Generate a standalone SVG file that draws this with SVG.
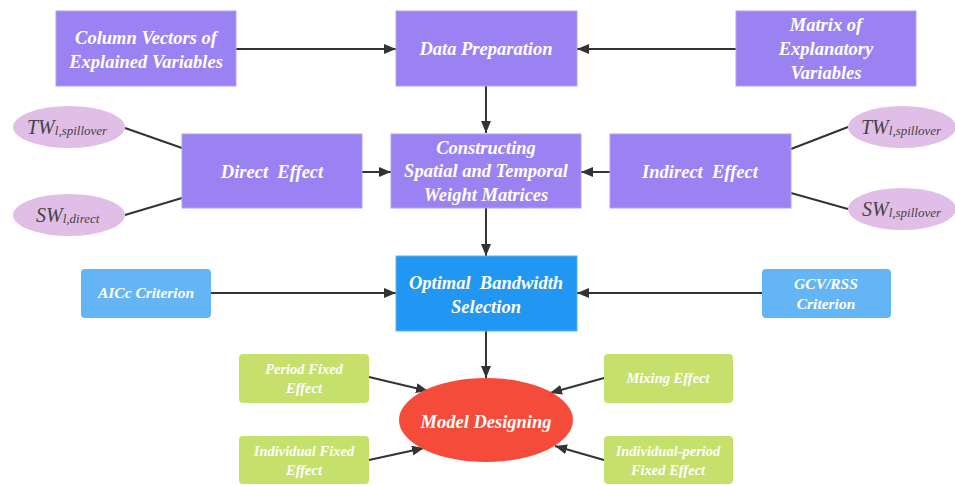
<svg xmlns="http://www.w3.org/2000/svg" width="955" height="485" viewBox="0 0 955 485">
<defs>
<style>
.box{fill:#9b82f3;stroke:#b3a1f5;stroke-width:1}
.pink{fill:#e1bee7}
.blue{fill:#2196f3;stroke:#5fb0f5;stroke-width:1}
.lblue{fill:#64b5f6}
.green{fill:#c6e06c}
.red{fill:#f44b3b}
.t{font-family:"Liberation Serif","Times New Roman",serif;font-weight:bold;font-style:italic;fill:#ffffff;text-anchor:middle;white-space:pre}
.m{font-size:18.5px}
.s{font-size:15.5px}
.g{font-size:14.5px}
.big{font-size:18.5px}
.math{font-family:"Liberation Serif","Times New Roman",serif;font-style:italic;fill:#444;font-size:20px}
.sub{font-size:13px}
.c{stroke:#333;stroke-width:2;fill:none}
</style>
<marker id="ah" viewBox="0 0 12 10" refX="12" refY="5" markerWidth="12" markerHeight="10" markerUnits="userSpaceOnUse" orient="auto">
<path d="M0,0 L12,5 L0,10 Z" fill="#333"/>
</marker>
</defs>
<rect width="955" height="485" fill="#ffffff"/>

<g id="connectors">
<line class="c" x1="236" y1="49" x2="396" y2="49" marker-end="url(#ah)"/>
<line class="c" x1="736" y1="49" x2="577" y2="49" marker-end="url(#ah)"/>
<line class="c" x1="486" y1="86" x2="486" y2="133" marker-end="url(#ah)"/>
<line class="c" x1="362" y1="172" x2="391" y2="172" marker-end="url(#ah)"/>
<line class="c" x1="610" y1="172" x2="581" y2="172" marker-end="url(#ah)"/>
<line class="c" x1="125" y1="128" x2="182" y2="148"/>
<line class="c" x1="125" y1="215" x2="182" y2="198"/>
<line class="c" x1="791" y1="149" x2="848" y2="127"/>
<line class="c" x1="791" y1="193" x2="848" y2="209"/>
<line class="c" x1="486" y1="208" x2="486" y2="256" marker-end="url(#ah)"/>
<line class="c" x1="211" y1="293" x2="396" y2="293" marker-end="url(#ah)"/>
<line class="c" x1="762" y1="293" x2="577" y2="293" marker-end="url(#ah)"/>
<line class="c" x1="486" y1="331" x2="486" y2="378" marker-end="url(#ah)"/>
<line class="c" x1="369" y1="377" x2="428" y2="391" marker-end="url(#ah)"/>
<line class="c" x1="369" y1="460" x2="424" y2="448" marker-end="url(#ah)"/>
<line class="c" x1="604" y1="378" x2="550" y2="393" marker-end="url(#ah)"/>
<line class="c" x1="604" y1="460" x2="555" y2="446" marker-end="url(#ah)"/>
</g>

<g id="column-vectors">
<rect class="box" x="56" y="11" width="180" height="75"/>
<text class="t m" x="146" y="44">Column Vectors of</text>
<text class="t m" x="146" y="68">Explained Variables</text>
</g>
<g id="data-preparation">
<rect class="box" x="396" y="11" width="181" height="75"/>
<text class="t m" x="486" y="55">Data Preparation</text>
</g>
<g id="matrix">
<rect class="box" x="736" y="11" width="180" height="75"/>
<text class="t m" x="826" y="31">Matrix of</text>
<text class="t m" x="826" y="55">Explanatory</text>
<text class="t m" x="826" y="79">Variables</text>
</g>

<g id="tw-left">
<ellipse class="pink" cx="69" cy="127" rx="56" ry="21"/>
<text class="math" x="27" y="134">TW<tspan class="sub" dy="1">l,spillover</tspan></text>
</g>
<g id="sw-left">
<ellipse class="pink" cx="69" cy="215" rx="56" ry="21"/>
<text class="math" x="36" y="222">SW<tspan class="sub" dy="1">l,direct</tspan></text>
</g>
<g id="direct-effect">
<rect class="box" x="182" y="134" width="180" height="74"/>
<text class="t m" x="272" y="178">Direct  Effect</text>
</g>
<g id="constructing">
<rect class="box" x="391" y="134" width="190" height="74"/>
<text class="t m" x="486" y="154">Constructing</text>
<text class="t m" x="486" y="177">Spatial and Temporal</text>
<text class="t m" x="486" y="201">Weight Matrices</text>
</g>
<g id="indirect-effect">
<rect class="box" x="610" y="134" width="181" height="74"/>
<text class="t m" x="700" y="178">Indirect  Effect</text>
</g>
<g id="tw-right">
<ellipse class="pink" cx="902" cy="127" rx="54" ry="21"/>
<text class="math" x="861" y="134">TW<tspan class="sub" dy="1">l,spillover</tspan></text>
</g>
<g id="sw-right">
<ellipse class="pink" cx="902" cy="209" rx="54" ry="21"/>
<text class="math" x="862" y="216">SW<tspan class="sub" dy="1">l,spillover</tspan></text>
</g>

<g id="aicc">
<rect class="lblue" x="81" y="269" width="130" height="49" rx="4"/>
<text class="t s" x="146" y="298">AICc Criterion</text>
</g>
<g id="optimal-bandwidth">
<rect class="blue" x="396" y="256" width="181" height="75"/>
<text class="t m" x="486" y="289">Optimal  Bandwidth</text>
<text class="t m" x="486" y="313">Selection</text>
</g>
<g id="gcv">
<rect class="lblue" x="762" y="269" width="129" height="49" rx="4"/>
<text class="t s" x="826" y="289">GCV/RSS</text>
<text class="t s" x="826" y="309">Criterion</text>
</g>

<g id="period-fixed">
<rect class="green" x="239" y="354" width="130" height="49" rx="4"/>
<text class="t g" x="304" y="374">Period Fixed</text>
<text class="t g" x="304" y="393">Effect</text>
</g>
<g id="individual-fixed">
<rect class="green" x="239" y="436" width="130" height="48" rx="4"/>
<text class="t g" x="304" y="456">Individual Fixed</text>
<text class="t g" x="304" y="475">Effect</text>
</g>
<g id="model-designing">
<ellipse class="red" cx="486" cy="420" rx="87" ry="42"/>
<text class="t big" x="486" y="428">Model Designing</text>
</g>
<g id="mixing">
<rect class="green" x="604" y="354" width="129" height="49" rx="4"/>
<text class="t g" x="668" y="383">Mixing Effect</text>
</g>
<g id="individual-period">
<rect class="green" x="604" y="436" width="129" height="48" rx="4"/>
<text class="t g" x="668" y="456">Individual-period</text>
<text class="t g" x="668" y="475">Fixed Effect</text>
</g>
</svg>
